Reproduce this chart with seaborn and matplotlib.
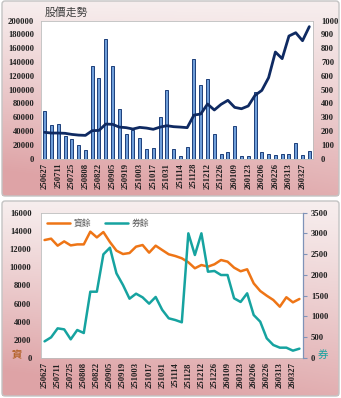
import numpy as np
import pandas as pd
import matplotlib
matplotlib.use("Agg")
import matplotlib.pyplot as plt
import seaborn as sns
from matplotlib.colors import to_rgb
from matplotlib.patches import FancyBboxPatch

sns.set_theme(style="white")
plt.rcParams['font.family'] = ['Liberation Serif', 'Noto Sans CJK TC', 'DejaVu Sans']

# ---------------- data ----------------
dates = ["250627", "250704", "250711", "250718", "250725", "250801", "250808", "250815",
         "250822", "250829", "250905", "250912", "250919", "250926", "251003", "251009",
         "251017", "251024", "251031", "251107", "251114", "251121", "251128", "251205",
         "251212", "251219", "251226", "251231", "260109", "260116", "260123", "260130",
         "260206", "260211", "260226", "260306", "260313", "260320", "260327", "260402"]

volume = [69000, 49000, 51000, 33000, 28000, 20000, 12000, 135000, 117000, 174000,
          134000, 72000, 36000, 41000, 30000, 13500, 15500, 60000, 99000, 14000,
          4300, 17400, 144000, 107000, 116000, 35700, 6800, 9700, 47300, 3900,
          3400, 96000, 9200, 6300, 5800, 6800, 6300, 23200, 5300, 11100]

price = [191, 186, 186, 184, 176, 171, 169, 203, 205, 251,
         249, 229, 225, 215, 227, 222, 213, 229, 239, 232,
         229, 225, 316, 324, 396, 353, 394, 423, 372, 362,
         382, 459, 495, 587, 773, 725, 889, 913, 855, 957]

margin = [12990, 13140, 12370, 12840, 12400, 12510, 12510, 13910, 13280, 13870,
          12770, 11820, 11450, 11560, 12260, 12440, 11600, 12370, 11890, 11420,
          11230, 10980, 10540, 9880, 10240, 10060, 10320, 10790, 10610, 9950,
          9550, 9770, 8220, 7380, 6860, 6390, 5650, 6690, 6130, 6500]

short = [401, 498, 714, 690, 450, 674, 602, 1597, 1597, 2497,
         2657, 2039, 1758, 1429, 1549, 1461, 1309, 1470, 1160, 956,
         915, 860, 3003, 2481, 3003, 2079, 2096, 1999, 1999, 1438,
         1350, 1558, 1036, 875, 474, 313, 249, 249, 177, 225]

title_top = "股價走勢"
legend_margin = "資餘"
legend_short = "券餘"

df = pd.DataFrame({"date": dates, "pos": np.arange(len(dates)),
                   "volume": volume, "price": price,
                   "margin": margin, "short": short})

# ---------------- figure ----------------
W, H = 341, 398
fig = plt.figure(figsize=(W / 100, H / 100), dpi=100)
fig.patch.set_facecolor("white")

# background gradient panels
bg = fig.add_axes([0, 0, 1, 1], zorder=-10)
bg.set_xlim(0, W)
bg.set_ylim(H, 0)
bg.axis("off")
light = np.array(to_rgb("#f7eeee"))
dark = np.array(to_rgb("#dea3a6"))


def panel(y0, y1):
    h = int(y1 - y0)
    yy = np.linspace(0, 1, h)[:, None]
    xx = np.linspace(0, 1, W - 4)[None, :]
    t = np.clip(0.85 * yy ** 1.1 + 0.3 * (1 - xx) * yy, 0, 1)
    img = light[None, None, :] * (1 - t[..., None]) + dark[None, None, :] * t[..., None]
    bg.imshow(img, extent=(2, W - 2, y1, y0), aspect="auto", zorder=0)
    bg.add_patch(FancyBboxPatch((2, y0), W - 4, y1 - y0, boxstyle="round,pad=0,rounding_size=3",
                                fill=False, edgecolor="#c4c4c4", linewidth=1.0, zorder=1))


panel(1, 196)
panel(201, 396)

tick_font = dict(fontsize=6.2, fontweight="bold", color="#202020")

# ---------------- top chart ----------------
ax = fig.add_axes([41.3 / W, 1 - 158.7 / H, (312.7 - 41.3) / W, (158.7 - 20.7) / H])
ax.set_facecolor("white")
sns.barplot(data=df, x="pos", y="volume", ax=ax, color="#6f9ed9", width=0.45,
            edgecolor="#1d3f7a", linewidth=0.7, saturation=1, native_scale=True)
ax.set_xlim(-0.5, len(dates) - 0.5)
ax.set_ylim(0, 200000)
ax.set_yticks(np.arange(0, 200001, 20000))
ax.set_yticklabels([str(v) for v in range(0, 200001, 20000)], **tick_font)
ax.set_xticks(np.arange(0, len(dates), 2))
ax.set_xticklabels(dates[::2], rotation=90, **tick_font)
ax.tick_params(axis="both", length=0, pad=5)
ax.tick_params(axis="x", pad=3)
ax.set_xlabel("")
ax.set_ylabel("")
for s in ax.spines.values():
    s.set_color("#bdbdbd")
    s.set_linewidth(0.6)

ax2 = ax.twinx()
sns.lineplot(data=df, x="pos", y="price", ax=ax2, color="#0f2a62", linewidth=2.0)
ax2.set_ylim(0, 1000)
ax2.set_yticks(np.arange(0, 1001, 100))
ax2.set_yticklabels([str(v) for v in range(0, 1001, 100)], **tick_font)
ax2.tick_params(axis="y", length=0, pad=6)
ax2.set_ylabel("")
ax2.set_xlim(-0.5, len(dates) - 0.5)
for s in ax2.spines.values():
    s.set_visible(False)

fig.text(45 / W, 1 - 12.5 / H, title_top, fontsize=7.8, color="#404040",
         family=["Noto Sans CJK TC"], va="center", ha="left")

# ---------------- bottom chart ----------------
bx = fig.add_axes([41.3 / W, 1 - 358 / H, (302.7 - 41.3) / W, (358 - 212.7) / H])
bx.set_facecolor("white")
sns.lineplot(data=df, x="pos", y="margin", ax=bx, color="#ee7516", linewidth=1.8,
             label=legend_margin, legend=False)
bx.set_xlim(-0.5, len(dates) - 0.5)
bx.set_ylim(0, 16000)
bx.set_yticks(np.arange(0, 16001, 2000))
bx.set_yticklabels([str(v) for v in range(0, 16001, 2000)], **tick_font)
bx.set_xticks(np.arange(0, len(dates), 2))
bx.set_xticklabels(dates[::2], rotation=90, **tick_font)
bx.tick_params(axis="both", length=0, pad=7)
bx.tick_params(axis="x", pad=3)
bx.set_xlabel("")
bx.set_ylabel("")
for s in bx.spines.values():
    s.set_color("#bdbdbd")
    s.set_linewidth(0.6)

bx2 = bx.twinx()
sns.lineplot(data=df, x="pos", y="short", ax=bx2, color="#16a3a0", linewidth=1.8,
             label=legend_short, legend=False)
bx2.set_ylim(0, 3500)
bx2.set_yticks(np.arange(0, 3501, 500))
bx2.set_yticklabels([str(v) for v in range(0, 3501, 500)], **tick_font)
bx2.tick_params(axis="y", length=3, width=0.8, color="#7f93b8", pad=3, direction="out")
bx2.set_ylabel("")
bx2.set_xlim(-0.5, len(dates) - 0.5)
for k, s in bx2.spines.items():
    s.set_visible(k == "right")
bx2.spines["right"].set_color("#7f93b8")
bx2.spines["right"].set_linewidth(0.9)

h1, l1 = bx.get_legend_handles_labels()
h2, l2 = bx2.get_legend_handles_labels()
leg = bx.legend(h1 + h2, l1 + l2, loc="upper left", ncol=2, frameon=False,
                bbox_to_anchor=(0.0, 1.0), handlelength=2.6, columnspacing=1.6,
                handletextpad=0.4, borderaxespad=0.3,
                prop={"family": ["Noto Sans CJK TC"], "size": 6.3})
for t in leg.get_texts():
    t.set_color("#595959")

fig.text(17 / W, 1 - 355 / H, "資", fontsize=7.5, color="#b5652e", fontweight="bold",
         family=["Noto Sans CJK TC"], va="center", ha="center")
fig.text(323 / W, 1 - 355 / H, "券", fontsize=7.5, color="#16a3a0",
         family=["Noto Sans CJK TC"], va="center", ha="center")

fig.savefig("out.png", dpi=100)
